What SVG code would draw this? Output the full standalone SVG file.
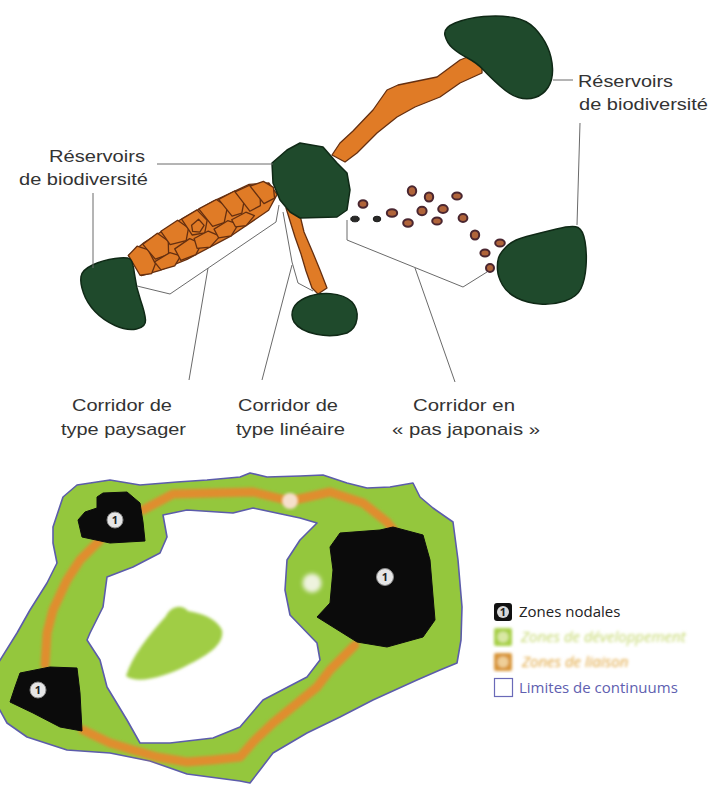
<svg xmlns="http://www.w3.org/2000/svg" width="714" height="788" viewBox="0 0 714 788">
  <defs>
    <style>
      .res { fill: #1f4a2c; stroke: #0f2916; stroke-width: 1.5; stroke-linejoin: round; }
      .cor { fill: #e07b26; stroke: #652f10; stroke-width: 1.3; stroke-linejoin: round; }
      .stone { fill: #b0643a; stroke: #4a2630; stroke-width: 2; }
      .stone-dk { fill: #2a2a28; stroke: #1a1a1a; stroke-width: 1; }
      .lead { fill: none; stroke: #6a6a6a; stroke-width: 1; }
      .lbl { font-family: "Liberation Sans", Arial, sans-serif; font-size: 17px; fill: #333; }
      .zone { fill: #94c73d; stroke: #5c5cab; stroke-width: 1.6; stroke-linejoin: round; }
      .hole { fill: #ffffff; stroke: #5c5cab; stroke-width: 1.6; stroke-linejoin: round; }
      .node { fill: #0b0b0b; stroke: #0b0b0b; stroke-width: 1; stroke-linejoin: round; }
      .badge { fill: #e6e6e6; stroke: #888; stroke-width: 1; }
      .num { font-family: "Open Sans", "DejaVu Sans", sans-serif; font-size: 11px; font-weight: bold; fill: #222; text-anchor: middle; }
      .leg { font-family: "Open Sans", "DejaVu Sans", sans-serif; font-size: 15px; }
    </style>
    <filter id="soft" x="-10%" y="-10%" width="120%" height="120%">
      <feGaussianBlur stdDeviation="1.4"/>
    </filter>
    <filter id="haze" x="-20%" y="-20%" width="140%" height="140%">
      <feGaussianBlur stdDeviation="2"/>
    </filter>
  </defs>

  <rect width="714" height="788" fill="#ffffff"/>

  <!-- ===== Upper figure: corridor types ===== -->
  <g id="corridors-top">
    <!-- corridor between the central and upper-right reservoirs -->
    <polygon id="corridor-upper" class="cor" points="470,56 482,64 482,73 460,83 440,97 415,107 397,117 377,133 357,153 345,162 332,155 340,143 353,131 373,110 387,90 398,85 437,77 460,60"/>

    <!-- landscape corridor made of patches -->
    <g id="corridor-paysager" transform="translate(134,266) rotate(-28)">
      <polygon class="cor" points="0,-12 20,-16 60,-19 100,-20 140,-18 158,-10 160,4 145,14 100,19 50,19 20,16 2,12"/>
      <polygon class="cor" points="0,-12 12,-16 20,-8 20,8 12,15 1,11"/>
      <polygon class="cor" points="18,-15 36,-18 42,-6 36,6 22,4"/>
      <polygon class="cor" points="20,6 38,5 46,13 36,19 22,16"/>
      <polygon class="cor" points="40,-18 60,-20 66,-8 58,2 42,-2"/>
      <polygon class="cor" points="44,4 62,2 70,12 60,19 44,17"/>
      <polygon class="cor" points="64,-19 82,-20 86,-6 78,4 66,0"/>
      <polygon class="cor" points="66,4 82,4 90,14 76,19 64,14"/>
      <polygon class="cor" points="70,-9 79,-11 81,-3 74,1 68,-3"/>
      <polygon class="cor" points="84,-20 104,-20 110,-8 100,4 88,2"/>
      <polygon class="cor" points="88,5 104,4 112,12 100,19 88,15"/>
      <polygon class="cor" points="106,-19 124,-19 128,-6 120,4 110,2"/>
      <polygon class="cor" points="108,5 124,5 130,12 118,17 108,13"/>
      <polygon class="cor" points="124,-18 140,-17 146,-6 140,6 128,6"/>
      <polygon class="cor" points="140,-16 154,-14 160,-4 156,6 144,6"/>
    </g>

    <!-- linear corridor -->
    <polygon id="corridor-lineaire" class="cor" points="286,208 298,207 304,232 313,253 320,270 327,288 318,294 312,288 306,271 301,254 295,237"/>

    <!-- stepping-stone corridor -->
    <g id="corridor-pas-japonais">
      <ellipse class="stone-dk" cx="355" cy="219" rx="4.2" ry="2.8"/>
      <ellipse class="stone-dk" cx="377" cy="219" rx="3.8" ry="2.8"/>
      <ellipse class="stone" cx="363" cy="204" rx="4.4" ry="3.8"/>
      <ellipse class="stone" cx="392" cy="213" rx="5.2" ry="3.8"/>
      <ellipse class="stone" cx="408" cy="223" rx="4.8" ry="3.8"/>
      <ellipse class="stone" cx="412" cy="191" rx="4.2" ry="4.8"/>
      <ellipse class="stone" cx="429" cy="197" rx="4.2" ry="4.6"/>
      <ellipse class="stone" cx="422" cy="211" rx="4.6" ry="4.2"/>
      <ellipse class="stone" cx="437" cy="221" rx="4.8" ry="3.6"/>
      <ellipse class="stone" cx="443" cy="209" rx="4.8" ry="4"/>
      <ellipse class="stone" cx="457" cy="196" rx="4.8" ry="3.6"/>
      <ellipse class="stone" cx="463" cy="218" rx="4.4" ry="4"/>
      <ellipse class="stone" cx="475" cy="235" rx="4.2" ry="4.6"/>
      <ellipse class="stone" cx="500" cy="243" rx="4.8" ry="3.6"/>
      <ellipse class="stone" cx="485" cy="253" rx="4.6" ry="3.6"/>
      <ellipse class="stone" cx="490" cy="268" rx="4" ry="4"/>
    </g>
  </g>

  <g id="reservoir-top-right">
    <path class="res" d="M445,35.5 Q443,28 455,23 Q467,18 483.5,16.5 Q500,15 513.5,17.5 Q527,20 535,28.5 Q543,37 547.5,47 Q552,57 552.5,68.5 Q553,80 548,87.5 Q543,95 535,97.5 Q527,100 518.5,97.5 Q510,95 500,86 Q490,77 483.5,70 Q477,63 467.5,58 Q458,53 452.5,48 Q447,43 445,35.5 Z"/>
  </g>
  <g id="reservoir-center">
    <polygon class="res" points="272,163 287,150 300,143 323,147 337,163 347,173 350,190 347,210 337,217 300,218 290,212 280,200 273,183"/>
  </g>
  <g id="reservoir-left">
    <path class="res" d="M81,276.5 Q82,270 92.5,265 Q103,260 115,258.5 Q127,257 130,259 Q133,261 134.5,274 Q136,287 140.5,300 Q145,313 145.5,320 Q146,327 136.5,329 Q127,331 115,325.5 Q103,320 95,311.5 Q87,303 83.5,293 Q80,283 81,276.5 Z"/>
  </g>
  <g id="reservoir-small">
    <path class="res" d="M305,298 C320,291 342,292 352,302 C360,311 359,327 347,333 C328,339 302,334 294,322 C289,312 294,303 305,298 Z"/>
  </g>
  <g id="reservoir-right">
    <path class="res" d="M498.5,258 Q500,253 506.5,246.5 Q513,240 526.5,236.5 Q540,233 556.5,229 Q573,225 578,227.5 Q583,230 585,241.5 Q587,253 586,266.5 Q585,280 581,288.5 Q577,297 565,301 Q553,305 540,304 Q527,303 517,298 Q507,293 502.5,285 Q498,277 497.5,270 Q497,263 498.5,258 Z"/>
  </g>

  <!-- leader lines -->
  <g id="leaders">
    <line class="lead" x1="157" y1="164" x2="273" y2="164"/>
    <line class="lead" x1="93" y1="193" x2="93" y2="268"/>
    <line class="lead" x1="553" y1="80" x2="573" y2="80"/>
    <line class="lead" x1="580" y1="123" x2="577" y2="225"/>
    <polyline class="lead" points="137,286 170,294 276,222 279,205"/>
    <line class="lead" x1="208" y1="268" x2="189" y2="380"/>
    <polyline class="lead" points="283,212 292,262 298,283 313,291"/>
    <line class="lead" x1="292" y1="265" x2="262" y2="380"/>
    <polyline class="lead" points="347,220 347,240 463,287 487,272"/>
    <line class="lead" x1="415" y1="268" x2="455" y2="382"/>
  </g>

  <g id="labels-top">
    <text class="lbl" x="49" y="162" textLength="96" lengthAdjust="spacingAndGlyphs">Réservoirs</text>
    <text class="lbl" x="19" y="185" textLength="129" lengthAdjust="spacingAndGlyphs">de biodiversité</text>
    <text class="lbl" x="578" y="87" textLength="95" lengthAdjust="spacingAndGlyphs">Réservoirs</text>
    <text class="lbl" x="579" y="110" textLength="129" lengthAdjust="spacingAndGlyphs">de biodiversité</text>
    <text class="lbl" x="72" y="411" textLength="100" lengthAdjust="spacingAndGlyphs">Corridor de</text>
    <text class="lbl" x="61" y="435" textLength="125" lengthAdjust="spacingAndGlyphs">type paysager</text>
    <text class="lbl" x="238" y="411" textLength="100" lengthAdjust="spacingAndGlyphs">Corridor de</text>
    <text class="lbl" x="236" y="435" textLength="109" lengthAdjust="spacingAndGlyphs">type linéaire</text>
    <text class="lbl" x="413" y="411" textLength="102" lengthAdjust="spacingAndGlyphs">Corridor en</text>
    <text class="lbl" x="392" y="435" textLength="148" lengthAdjust="spacingAndGlyphs">« pas japonais »</text>
  </g>

  <!-- ===== Lower figure: continuum map ===== -->
  <g id="continuum">
    <polygon class="zone" points="53,527 63,497 77,485 110,480 140,485 177,482 207,480 240,477 250,473 267,477 300,476 323,475 347,483 367,488 390,487 413,483 420,497 433,508 453,522 458,560 462,607 461,640 457,663 440,670 417,680 373,700 340,717 307,733 273,753 260,770 250,783 240,781 187,774 150,761 110,753 67,750 27,737 7,723 -3,705 -3,665 17,633 30,610 47,583 57,563 53,543"/>
    <polygon class="hole" points="163,515 187,510 233,513 253,508 300,518 317,523 300,540 287,560 285,590 290,615 317,643 320,660 307,677 263,700 240,727 213,738 170,743 140,743 127,720 107,687 100,660 87,640 90,633 103,607 107,577 133,567 160,553 167,537"/>
    <path id="island" fill="#a0cd44" filter="url(#soft)" d="M126,676 C132,656 148,636 166,616 C170,607 181,603 188,611 C201,613 216,618 222,630 C225,645 206,656 186,666 C166,676 138,685 126,676 Z"/>
  </g>

  <g id="liaison">
    <path fill="none" stroke="#e8872c" stroke-opacity="0.9" stroke-width="9" stroke-linejoin="round" stroke-linecap="round" filter="url(#soft)" d="M143,510 L173,494 L213,493 L253,492 L290,501 L330,492 L363,503 L387,522 L395,532 M355,645 L330,670 L317,687 L295,705 L273,723 L255,740 L240,757 L213,760 L187,762 L157,757 L133,750 L110,743 L83,730 M45,665 L47,633 L53,610 L67,580 L80,560 L93,547 L100,540"/>
  </g>

  <g id="node-top-left">
    <polygon class="node" points="97,497 103,493 127,492 140,503 143,522 145,541 110,543 82,537 78,520 85,512 97,508"/>
    <circle class="badge" cx="115" cy="520" r="8"/>
    <text class="num" x="115" y="524">1</text>
  </g>
  <g id="node-bottom-left">
    <polygon class="node" points="20,673 50,667 77,668 80,693 82,731 60,727 33,713 10,702 15,687"/>
    <circle class="badge" cx="38" cy="690" r="8"/>
    <text class="num" x="38" y="694">1</text>
  </g>
  <g id="node-right">
    <polygon class="node" points="340,533 380,530 393,527 423,535 430,560 435,620 423,637 387,647 357,642 317,617 330,603 333,570 330,547"/>
    <circle class="badge" cx="385" cy="577" r="8.5"/>
    <text class="num" x="385" y="581">1</text>
  </g>

  <!-- faded markers on the corridors -->
  <g id="markers">
    <circle cx="290" cy="501" r="8" fill="#f6e0cc" filter="url(#soft)"/>
    <circle cx="312" cy="583" r="9.5" fill="#eef3de" filter="url(#haze)"/>
  </g>

  <!-- legend -->
  <g id="legend">
    <g id="legend-nodales">
      <rect x="494" y="603" width="18" height="18" rx="3" fill="#111"/>
      <circle cx="503" cy="612" r="6" fill="#d8d8d8"/>
      <text class="num" x="503" y="615.5" font-size="9">1</text>
      <text class="leg" x="519" y="617" fill="#222">Zones nodales</text>
    </g>
    <g id="legend-developpement" filter="url(#soft)">
      <rect x="494" y="628" width="18" height="18" rx="2" fill="#a8d04a"/>
      <circle cx="503" cy="637" r="5.5" fill="#d9e8a4"/>
      <text class="leg" x="521" y="642" fill="#c4d86c" font-style="italic">Zones de développement</text>
    </g>
    <g id="legend-liaison" filter="url(#soft)">
      <rect x="494" y="653" width="18" height="18" rx="2" fill="#d8953a"/>
      <circle cx="503" cy="662" r="5.5" fill="#efcf98"/>
      <text class="leg" x="522" y="667" fill="#e0a43a" font-style="italic">Zones de liaison</text>
    </g>
    <g id="legend-limites">
      <rect x="494.5" y="678.5" width="18" height="18" fill="#fff" stroke="#6a6ab8" stroke-width="1.2"/>
      <text class="leg" x="519" y="693" fill="#6060b0">Limites de continuums</text>
    </g>
  </g>
</svg>
